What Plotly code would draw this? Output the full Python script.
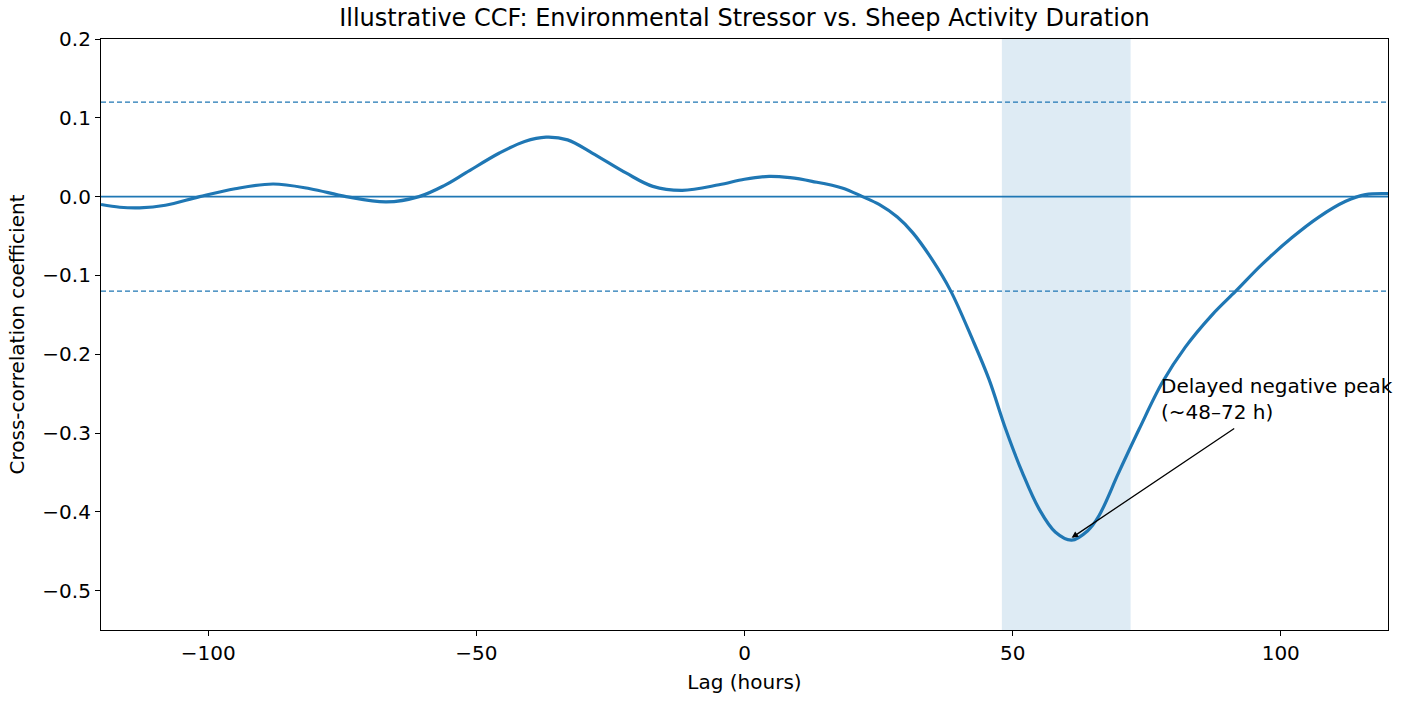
import plotly.graph_objects as go

lag_hours = [-120, -116.5, -112.8, -108, -101.6, -95, -87.9, -81, -74.3, -66.8, -60.7, -56, -52,
             -45.7, -41, -37, -33, -28.4, -22.1, -17.1, -11.6, -4.75, 0, 4.6, 8.5, 12.6, 18.2,
             22.0, 25.1, 28.5, 31.4, 35.0, 38.4, 42.5, 45.6, 48.7, 51.8, 54.9, 58.0, 61.0, 64.0,
             66.1, 69.8, 73.6, 77.9, 82.2, 87.2, 91.6, 96.5, 102.1, 107.1, 112.1, 115.8, 120]
ccf_values = [-0.010, -0.0135, -0.0143, -0.011, 0.0, 0.010, 0.016, 0.010, 0.0, -0.0068, 0.0,
              0.014, 0.030, 0.0553, 0.070, 0.0755, 0.072, 0.0553, 0.030, 0.013, 0.008, 0.015,
              0.022, 0.0257, 0.024, 0.0194, 0.011, 0.0, -0.010, -0.026, -0.046, -0.080, -0.119,
              -0.181, -0.232, -0.295, -0.350, -0.396, -0.426, -0.436, -0.424, -0.405, -0.350,
              -0.295, -0.236, -0.191, -0.150, -0.120, -0.086, -0.052, -0.026, -0.006, 0.0025,
              0.0038]
conf_bound = 0.12
band = [48, 72]
x_ticks = [-100, -50, 0, 50, 100]
x_tick_text = ["\u2212100", "\u221250", "0", "50", "100"]
y_ticks = [0.2, 0.1, 0.0, -0.1, -0.2, -0.3, -0.4, -0.5]
y_tick_text = ["0.2", "0.1", "0.0", "\u22120.1", "\u22120.2", "\u22120.3", "\u22120.4", "\u22120.5"]
x_range = [-120, 120]
y_range = [-0.55, 0.2]
peak_point = [61, -0.433]
arrow_tail = [91.6, -0.293]
label_pos = [77.3, -0.222]

blue = "#1f77b4"
font = "DejaVu Sans"

fig = go.Figure()

fig.add_vrect(x0=band[0], x1=band[1], fillcolor=blue, opacity=0.15, line_width=0, layer="below")

fig.add_trace(go.Scatter(x=x_range, y=[0, 0], mode="lines",
                         line=dict(color=blue, width=1.6), showlegend=False, hoverinfo="skip"))
fig.add_trace(go.Scatter(x=x_range, y=[conf_bound, conf_bound], mode="lines",
                         line=dict(color=blue, width=1.3, dash="5px,3px"), showlegend=False, hoverinfo="skip"))
fig.add_trace(go.Scatter(x=x_range, y=[-conf_bound, -conf_bound], mode="lines",
                         line=dict(color=blue, width=1.3, dash="5px,3px"), showlegend=False, hoverinfo="skip"))

fig.add_trace(go.Scatter(x=lag_hours, y=ccf_values, mode="lines",
                         line=dict(color=blue, width=3.2, shape="spline", smoothing=1.0),
                         showlegend=False))

fig.add_annotation(x=peak_point[0], y=peak_point[1], ax=arrow_tail[0], ay=arrow_tail[1],
                   axref="x", ayref="y", xref="x", yref="y", text="", showarrow=True,
                   arrowhead=2, arrowsize=1, arrowwidth=1.3, arrowcolor="black",
                   startstandoff=0, standoff=0)
fig.add_annotation(x=label_pos[0], y=label_pos[1], xref="x", yref="y",
                   text="Delayed negative peak<br>(~48\u201372 h)", showarrow=False,
                   xanchor="left", yanchor="top", align="left",
                   font=dict(family=font, size=20, color="black"))

axis_common = dict(showline=True, linecolor="black", linewidth=1.2, mirror=True,
                   ticks="outside", ticklen=5, tickwidth=1.2, tickcolor="black",
                   showgrid=False, zeroline=False,
                   tickfont=dict(family=font, size=20, color="black"))

fig.update_xaxes(range=x_range, tickvals=x_ticks, ticktext=x_tick_text,
                 title=dict(text="Lag (hours)", font=dict(family=font, size=20, color="black"), standoff=10),
                 **axis_common)
fig.update_yaxes(range=y_range, tickvals=y_ticks, ticktext=y_tick_text,
                 title=dict(text="Cross-correlation coefficient", font=dict(family=font, size=20, color="black"), standoff=12),
                 **axis_common)

fig.update_layout(
    width=1405, height=701,
    margin=dict(l=101, r=17, t=39, b=71),
    plot_bgcolor="white", paper_bgcolor="white",
    title=dict(text="Illustrative CCF: Environmental Stressor vs. Sheep Activity Duration",
               x=(101 + 1388) / 2 / 1405, xanchor="center", y=1 - 18 / 701, yanchor="middle",
               font=dict(family=font, size=24, color="black")),
    font=dict(family=font, color="black"),
)

fig.write_html("out.html", config={"displayModeBar": False},
               post_script="document.body.style.margin='0';document.body.style.overflow='hidden';")
